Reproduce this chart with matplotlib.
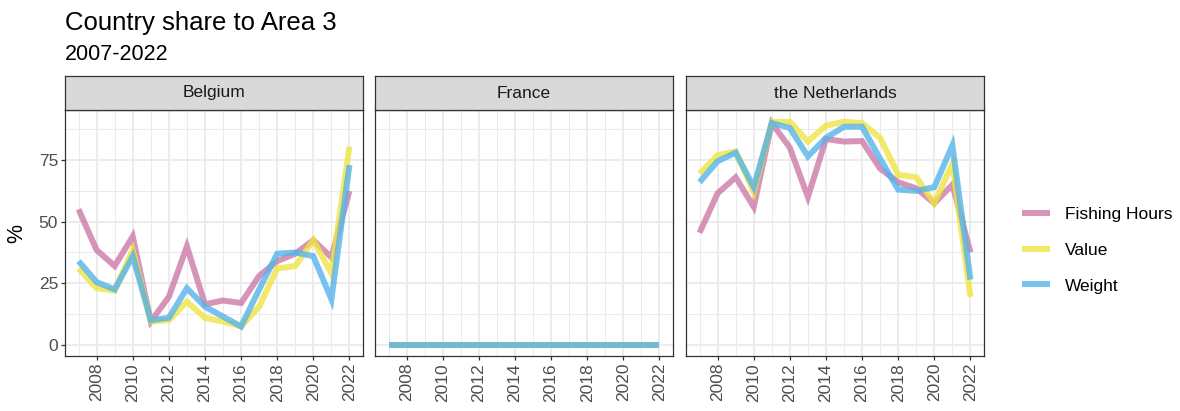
import matplotlib
matplotlib.use("Agg")
import matplotlib.pyplot as plt
from matplotlib.lines import Line2D
import numpy as np

plt.rcParams['font.family'] = ['Liberation Sans', 'DejaVu Sans']

years = list(range(2007, 2023))
countries = ["Belgium", "France", "the Netherlands"]
series_names = ["Fishing Hours", "Value", "Weight"]

belgium_fishing_hours = [55, 38.5, 32, 44, 9.5, 19.5, 40, 16.5, 18, 17, 28, 34, 37, 42.5, 35.5, 62.5]
belgium_value = [31, 23, 22, 38.5, 9.5, 10, 17.5, 11, 9.5, 7.5, 15.5, 31, 32, 42.5, 29, 80.5]
belgium_weight = [34, 25.5, 22.5, 36, 10, 11, 23, 15.5, 11.5, 7.5, 22.5, 37, 37.5, 36, 18.5, 73]

france_fishing_hours = [0] * 16
france_value = [0] * 16
france_weight = [0] * 16

netherlands_fishing_hours = [45.5, 61.5, 68, 56, 90, 80, 60, 83.5, 82.5, 82.7, 71.5, 66, 63.5, 57.5, 65, 37.5]
netherlands_value = [69.5, 77, 78.5, 62, 90.5, 90.5, 82.5, 89, 90.5, 90, 84, 69, 68, 57.5, 73.5, 19.5]
netherlands_weight = [66, 74.5, 78, 64, 90, 88, 76.5, 84, 88.5, 88.5, 75.5, 63, 62.5, 64, 81, 26.5]

panel_data = {
    "Belgium": [belgium_fishing_hours, belgium_value, belgium_weight],
    "France": [france_fishing_hours, france_value, france_weight],
    "the Netherlands": [netherlands_fishing_hours, netherlands_value, netherlands_weight],
}

colors = ["#CC79A7", "#F0E442", "#56B4E9"]
alpha = 0.8
lw = 4.3

W, H = 1180, 411
fig = plt.figure(figsize=(W / 100, H / 100), dpi=100)

panel_lr = [(65, 363), (375, 673), (686, 984)]
panel_top, panel_bottom = 110, 356
strip_top = 76

xmin, xmax = 2007 - 0.75, 2022 + 0.75
ymin, ymax = -4.5, 95.3

grid_col = "#EBEBEB"
border_col = "#333333"
tick_col = "#4D4D4D"

axes = []
for i, (country, (l, r)) in enumerate(zip(countries, panel_lr)):
    ax = fig.add_axes([l / W, 1 - panel_bottom / H, (r - l) / W, (panel_bottom - panel_top) / H])
    axes.append(ax)
    ax.set_xlim(xmin, xmax)
    ax.set_ylim(ymin, ymax)
    ax.set_xticks(range(2008, 2023, 2))
    ax.set_xticks([2007, 2009, 2011, 2013, 2015, 2017, 2019, 2021], minor=True)
    ax.set_yticks([0, 25, 50, 75])
    ax.set_yticks([12.5, 37.5, 62.5, 87.5], minor=True)
    ax.grid(which="major", color=grid_col, lw=1.3, zorder=0)
    ax.grid(which="minor", color=grid_col, lw=0.7, zorder=0)
    ax.set_axisbelow(True)
    for s in ax.spines.values():
        s.set_color(border_col)
        s.set_linewidth(0.9)
    ax.tick_params(which="major", length=3, width=0.9, color=border_col,
                   labelcolor=tick_col, labelsize=12.5, pad=2)
    ax.tick_params(which="minor", length=0)
    ax.tick_params(axis="x", labelrotation=90)
    if i > 0:
        ax.tick_params(axis="y", which="both", left=False, labelleft=False)
    for vals, c in zip(panel_data[country], colors):
        ax.plot(years, vals, color=c, alpha=alpha, lw=lw, solid_capstyle="butt",
                solid_joinstyle="miter")

    # facet strip
    sax = fig.add_axes([l / W, 1 - panel_top / H, (r - l) / W, (panel_top - strip_top) / H])
    sax.set_xticks([])
    sax.set_yticks([])
    sax.set_facecolor("#D9D9D9")
    for s in sax.spines.values():
        s.set_color(border_col)
        s.set_linewidth(0.9)
    sax.text(0.5, 0.5, country, ha="center", va="center", color="#1A1A1A",
             fontsize=12.5, transform=sax.transAxes)

axes[0].set_ylabel("%", fontsize=15.5, color="black", labelpad=8)

fig.text(65 / W, 1 - 30 / H, "Country share to Area 3", fontsize=18.5, ha="left",
         va="baseline", color="black")
fig.text(65 / W, 1 - 60 / H, "2007-2022", fontsize=15.5, ha="left",
         va="baseline", color="black")

handles = [Line2D([0], [0], color=c, alpha=alpha, lw=lw, solid_capstyle="butt") for c in colors]
fig.legend(handles, series_names, loc="center left",
           bbox_to_anchor=(1022 / W, 1 - 250 / H), frameon=False,
           fontsize=12.5, handlelength=1.6, handletextpad=0.9,
           labelspacing=1.2, borderpad=0, borderaxespad=0)

fig.savefig("out.png", dpi=100)
